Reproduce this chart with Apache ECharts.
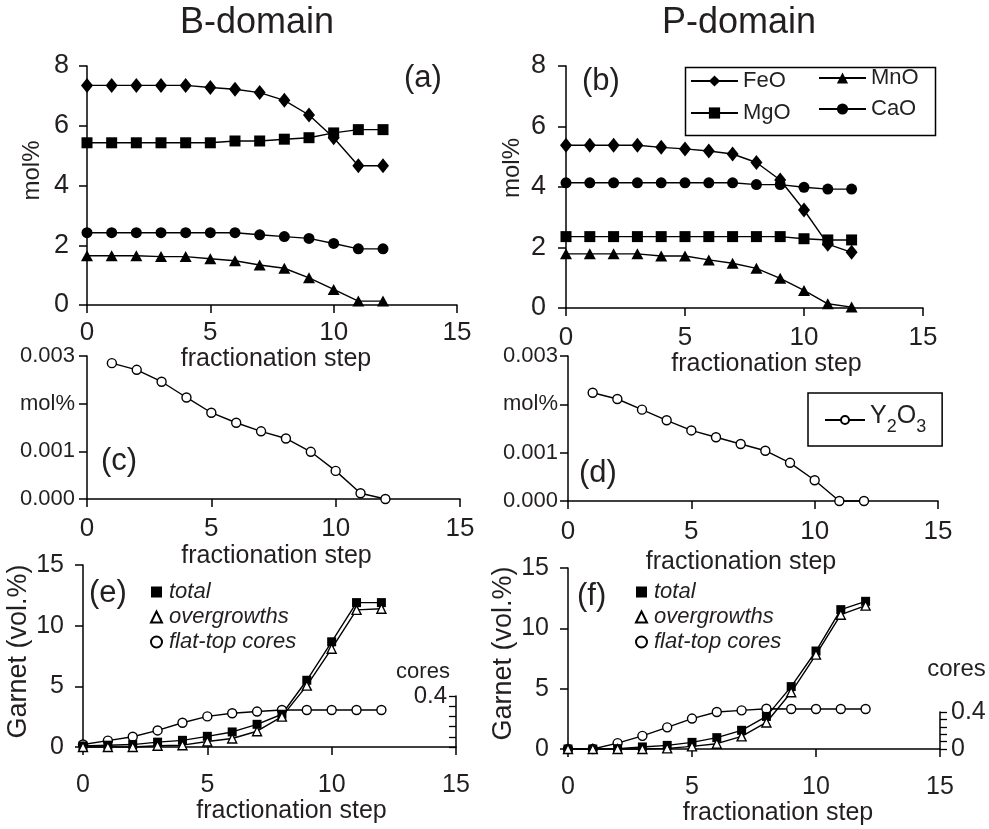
<!DOCTYPE html>
<html>
<head>
<meta charset="utf-8">
<script src="https://cdn.jsdelivr.net/npm/echarts@6/dist/echarts.min.js"></script>
<style>html,body{margin:0;padding:0;background:#fff}#c{width:989px;height:829px}</style>
</head>
<body>
<div id="c"></div>
<script>
// ---- data ----
const steps = [0,1,2,3,4,5,6,7,8,9,10,11,12];
const ySteps = [1,2,3,4,5,6,7,8,9,10,11,12];
const xTicks = [0,5,10,15];
// (a) B-domain, mol%
const FeO_B = [7.35,7.35,7.35,7.35,7.35,7.28,7.22,7.11,6.85,6.36,5.6,4.66,4.66];
const MgO_B = [5.43,5.43,5.43,5.43,5.43,5.43,5.49,5.49,5.55,5.6,5.76,5.87,5.87];
const MnO_B = [1.65,1.65,1.65,1.62,1.62,1.55,1.48,1.34,1.23,0.91,0.52,0.13,0.13];
const CaO_B = [2.42,2.42,2.42,2.42,2.42,2.42,2.42,2.35,2.29,2.23,2.06,1.88,1.88];
// (b) P-domain, mol%
const FeO_P = [5.38,5.38,5.38,5.38,5.31,5.26,5.19,5.09,4.81,4.23,3.24,2.11,1.84];
const MgO_P = [2.36,2.36,2.36,2.36,2.36,2.36,2.36,2.36,2.36,2.36,2.29,2.25,2.25];
const MnO_P = [1.79,1.79,1.79,1.79,1.72,1.72,1.59,1.48,1.31,0.98,0.58,0.14,0.03];
const CaO_P = [4.14,4.14,4.14,4.14,4.14,4.14,4.14,4.14,4.08,4.08,3.99,3.93,3.93];
// (c),(d) Y2O3 mol%
const Y2O3_B = [0.00285,0.00271,0.00246,0.00213,0.00181,0.00160,0.00142,0.00127,0.00099,0.00059,0.00012,0.0];
const Y2O3_P = [0.00224,0.00211,0.00189,0.00167,0.00146,0.00132,0.00118,0.00104,0.00079,0.00043,0.0,0.0];
// (e),(f) garnet vol.%
const total_B = [0.08,0.15,0.2,0.4,0.55,0.88,1.24,1.87,2.7,5.5,8.67,11.9,11.9];
const over_B  = [0,0,0,0.1,0.15,0.45,0.7,1.3,2.5,5.06,8.1,11.3,11.4];
const cores_B = [0.02,0.05,0.08,0.13,0.19,0.24,0.265,0.278,0.29,0.29,0.29,0.29,0.29];
const total_P = [0,0,0.03,0.17,0.3,0.55,0.94,1.55,2.7,5.17,8.12,11.55,12.24];
const over_P  = [0,0,0,0,0.05,0.22,0.44,1.05,2.2,4.7,7.82,11.13,11.88];
const cores_P = [0,0,0.064,0.142,0.234,0.329,0.40,0.418,0.435,0.432,0.432,0.432,0.432];

// ---- chart ----
const FONT = 'Liberation Sans, Arial, sans-serif';
const TXT = '#231f20';
const pairs = (xs, ys) => xs.map((x, i) => [x, ys[i]]);

function xAx(grid, opts) {
  return Object.assign({
    type: 'value', gridIndex: grid, min: 0, max: 15, interval: 5,
    name: 'fractionation step', nameLocation: 'middle',
    nameTextStyle: { fontFamily: FONT, fontSize: 25, color: TXT },
    axisLine: { onZero: false, lineStyle: { color: '#000', width: 1.5 } },
    axisTick: { length: 8, lineStyle: { color: '#000', width: 1.5 } },
    axisLabel: { fontFamily: FONT, fontSize: 25, color: TXT },
    splitLine: { show: false }
  }, opts);
}
function yAx(grid, opts) {
  return Object.assign({
    type: 'value', gridIndex: grid,
    nameLocation: 'middle',
    nameTextStyle: { fontFamily: FONT, fontSize: 24, color: TXT },
    axisLine: { show: true, onZero: false, lineStyle: { color: '#000', width: 1.5 } },
    axisTick: { show: true, length: 8, lineStyle: { color: '#000', width: 1.5 } },
    axisLabel: { fontFamily: FONT, fontSize: 26, color: TXT },
    splitLine: { show: false }
  }, opts);
}
function ser(name, xs, ys, xi, yi, symbol, size, open) {
  return {
    type: 'line', name: name, xAxisIndex: xi, yAxisIndex: yi,
    data: pairs(xs, ys), symbol: symbol, symbolSize: size, showSymbol: true,
    clip: false, animation: false,
    lineStyle: { color: '#000', width: 1.4 },
    itemStyle: open ? { color: '#fff', borderColor: '#000', borderWidth: 1.4 } : { color: '#000', borderColor: '#000', borderWidth: 0 },
    emphasis: { disabled: true }
  };
}
const molFmt = v => (Math.abs(v - 0.002) < 1e-9 ? 'mol%' : v.toFixed(3));

const option = {
  animation: false,
  backgroundColor: '#fff',
  textStyle: { fontFamily: FONT },
  title: [
    { text: 'B-domain', left: 180, top: 5, padding: 0, textStyle: { fontFamily: FONT, fontSize: 36, fontWeight: 'normal', color: TXT } },
    { text: 'P-domain', left: 662, top: 5, padding: 0, textStyle: { fontFamily: FONT, fontSize: 36, fontWeight: 'normal', color: TXT } },
    { text: '(a)', left: 404, top: 63, padding: 0, textStyle: { fontFamily: FONT, fontSize: 31, fontWeight: 'normal', color: TXT } },
    { text: '(b)', left: 582, top: 66, padding: 0, textStyle: { fontFamily: FONT, fontSize: 31, fontWeight: 'normal', color: TXT } },
    { text: '(c)', left: 101, top: 446, padding: 0, textStyle: { fontFamily: FONT, fontSize: 31, fontWeight: 'normal', color: TXT } },
    { text: '(d)', left: 579, top: 458, padding: 0, textStyle: { fontFamily: FONT, fontSize: 31, fontWeight: 'normal', color: TXT } },
    { text: '(e)', left: 89, top: 578, padding: 0, textStyle: { fontFamily: FONT, fontSize: 31, fontWeight: 'normal', color: TXT } },
    { text: '(f)', left: 577, top: 581, padding: 0, textStyle: { fontFamily: FONT, fontSize: 31, fontWeight: 'normal', color: TXT } }
  ],
  grid: [
    { left: 87, top: 66, width: 370, height: 239 },
    { left: 566, top: 66, width: 357, height: 242 },
    { left: 87, top: 356, width: 373, height: 143 },
    { left: 568, top: 356, width: 370, height: 145 },
    { left: 83, top: 565, width: 373, height: 182 },
    { left: 568, top: 568, width: 372, height: 181 },
    { left: 83, top: 696, width: 373, height: 51 },
    { left: 568, top: 712, width: 372, height: 37 }
  ],
  xAxis: [
    xAx(0, { nameGap: 40, nameTextStyle: { fontFamily: FONT, fontSize: 25, color: TXT, padding: [0,0,0,8] }, axisLabel: { fontFamily: FONT, fontSize: 26, color: TXT, margin: 15 } }),
    xAx(1, { nameGap: 32, nameTextStyle: { fontFamily: FONT, fontSize: 25, color: TXT, padding: [0,0,0,44] }, axisLabel: { fontFamily: FONT, fontSize: 26, color: TXT, margin: 17 } }),
    xAx(2, { nameGap: 45, nameTextStyle: { fontFamily: FONT, fontSize: 25, color: TXT, padding: [0,0,0,6] }, axisLabel: { fontFamily: FONT, fontSize: 26, color: TXT, margin: 17 } }),
    xAx(3, { nameGap: 49, nameTextStyle: { fontFamily: FONT, fontSize: 25, color: TXT, padding: [0,24,0,0] }, axisLabel: { fontFamily: FONT, fontSize: 26, color: TXT, margin: 18 } }),
    xAx(4, { nameGap: 52, nameTextStyle: { fontFamily: FONT, fontSize: 25, color: TXT, padding: [0,0,0,44] }, axisLabel: { fontFamily: FONT, fontSize: 25, color: TXT, margin: 26 } }),
    xAx(5, { nameGap: 48, nameTextStyle: { fontFamily: FONT, fontSize: 25, color: TXT, padding: [0,0,0,48] }, axisLabel: { fontFamily: FONT, fontSize: 25, color: TXT, margin: 26 } }),
    { type: 'value', gridIndex: 6, min: 0, max: 15, show: false },
    { type: 'value', gridIndex: 7, min: 0, max: 15, show: false }
  ],
  yAxis: [
    yAx(0, { min: 0, max: 8, interval: 2, name: 'mol%', nameGap: 43,
      nameTextStyle: { fontFamily: FONT, fontSize: 24, color: TXT, padding: [0,0,0,30] },
      axisLabel: { fontFamily: FONT, fontSize: 27, color: TXT, margin: 18 } }),
    yAx(1, { min: 0, max: 8, interval: 2, name: 'mol%', nameGap: 42,
      nameTextStyle: { fontFamily: FONT, fontSize: 24, color: TXT, padding: [0,0,0,38] },
      axisLabel: { fontFamily: FONT, fontSize: 27, color: TXT, margin: 20 } }),
    yAx(2, { min: 0, max: 0.003, interval: 0.001,
      axisLabel: { fontFamily: FONT, fontSize: 22, color: TXT, margin: 12, formatter: molFmt } }),
    yAx(3, { min: 0, max: 0.003, interval: 0.001,
      axisLabel: { fontFamily: FONT, fontSize: 22, color: TXT, margin: 10, formatter: molFmt } }),
    yAx(4, { min: 0, max: 15, interval: 5, name: 'Garnet (vol.%)', nameGap: 41,
      nameTextStyle: { fontFamily: FONT, fontSize: 27, color: TXT, padding: [0,0,0,9] },
      axisLabel: { fontFamily: FONT, fontSize: 25, color: TXT, margin: 19 } }),
    yAx(5, { min: 0, max: 15, interval: 5, name: 'Garnet (vol.%)', nameGap: 44,
      nameTextStyle: { fontFamily: FONT, fontSize: 27, color: TXT, padding: [0,0,0,10] },
      axisLabel: { fontFamily: FONT, fontSize: 25, color: TXT, margin: 19 } }),
    yAx(6, { position: 'right', min: 0, max: 0.4, interval: 0.08, name: 'cores', nameLocation: 'end', nameGap: 13,
      nameTextStyle: { fontFamily: FONT, fontSize: 22, color: TXT, padding: [0,66,0,0] },
      axisTick: { show: true, inside: true, length: 7, lineStyle: { color: '#000', width: 1.3 } },
      axisLabel: { inside: true, fontFamily: FONT, fontSize: 24, color: TXT, margin: 9,
        formatter: v => (Math.abs(v - 0.4) < 1e-9 ? '0.4' : '') } }),
    yAx(7, { position: 'right', min: 0, max: 0.4, interval: 0.08, name: 'cores', nameLocation: 'end', nameGap: 31,
      nameTextStyle: { fontFamily: FONT, fontSize: 24, color: TXT, padding: [0,0,0,33] },
      axisTick: { show: true, inside: false, length: 7, lineStyle: { color: '#000', width: 1.3 } },
      axisLabel: { fontFamily: FONT, fontSize: 25, color: TXT, margin: 11,
        formatter: v => (Math.abs(v - 0.4) < 1e-9 ? '0.4' : (v === 0 ? '0' : '')) } })
  ],
  legend: [
    { orient: 'vertical', left: 690, top: 70, itemWidth: 47, itemHeight: 14, itemGap: 10, selectedMode: false, padding: 0,
      data: ['FeO', 'MgO'], textStyle: { fontFamily: FONT, fontSize: 22, color: TXT } },
    { orient: 'vertical', left: 818, top: 67, itemWidth: 47, itemHeight: 14, itemGap: 9, selectedMode: false, padding: 0,
      data: ['MnO', 'CaO'], textStyle: { fontFamily: FONT, fontSize: 22, color: TXT } },
    { left: 808, top: 393, itemWidth: 40, itemHeight: 10, selectedMode: false, padding: [11, 16, 10, 16],
      borderColor: '#000', borderWidth: 1.5, borderRadius: 0,
      data: ['Y2O3'], formatter: () => '{n|Y}{s|2}{n|O}{s|3}',
      textStyle: { fontFamily: FONT, color: TXT, rich: {
        n: { fontFamily: FONT, fontSize: 25, color: TXT, lineHeight: 32, verticalAlign: 'top' },
        s: { fontFamily: FONT, fontSize: 18, color: TXT, lineHeight: 32, verticalAlign: 'bottom' } } } },
    { orient: 'vertical', left: 150, top: 581, itemWidth: 11, itemHeight: 11, itemGap: 3, selectedMode: false, padding: 0,
      data: [{ name: 'total', icon: 'rect' }, { name: 'overgrowths', icon: 'triangle' }, { name: 'flat-top cores', icon: 'circle' }],
      textStyle: { fontFamily: FONT, fontSize: 22, fontStyle: 'italic', color: TXT, padding: [0,0,0,2] } },
    { orient: 'vertical', left: 635, top: 581, itemWidth: 11, itemHeight: 11, itemGap: 3, selectedMode: false, padding: 0,
      data: [{ name: 'total', icon: 'rect' }, { name: 'overgrowths', icon: 'triangle' }, { name: 'flat-top cores', icon: 'circle' }],
      textStyle: { fontFamily: FONT, fontSize: 22, fontStyle: 'italic', color: TXT, padding: [0,0,0,2] } }
  ],
  graphic: [
    { type: 'rect', left: 683, top: 65, shape: { width: 250, height: 68 }, style: { fill: 'none', stroke: '#000', lineWidth: 1.5 }, silent: true, z: 100 }
  ],
  series: [
    ser('FeO', steps, FeO_B, 0, 0, 'diamond', [12, 15], false),
    ser('MgO', steps, MgO_B, 0, 0, 'rect', 11, false),
    ser('MnO', steps, MnO_B, 0, 0, 'triangle', [12, 11], false),
    ser('CaO', steps, CaO_B, 0, 0, 'circle', 11, false),
    ser('FeO', steps, FeO_P, 1, 1, 'diamond', [12, 15], false),
    ser('MgO', steps, MgO_P, 1, 1, 'rect', 11, false),
    ser('MnO', steps, MnO_P, 1, 1, 'triangle', [12, 11], false),
    ser('CaO', steps, CaO_P, 1, 1, 'circle', 11, false),
    ser('Y2O3', ySteps, Y2O3_B, 2, 2, 'circle', 9, true),
    ser('Y2O3', ySteps, Y2O3_P, 3, 3, 'circle', 9, true),
    ser('flat-top cores', steps, cores_B, 6, 6, 'circle', 9, true),
    ser('total', steps, total_B, 4, 4, 'rect', 9, false),
    ser('overgrowths', steps, over_B, 4, 4, 'triangle', 9, true),
    ser('flat-top cores', steps, cores_P, 7, 7, 'circle', 9, true),
    ser('total', steps, total_P, 5, 5, 'rect', 9, false),
    ser('overgrowths', steps, over_P, 5, 5, 'triangle', 9, true)
  ]
};

const chart = echarts.init(document.getElementById('c'), null, { renderer: 'canvas' });
chart.setOption(option);
</script>
</body>
</html>
